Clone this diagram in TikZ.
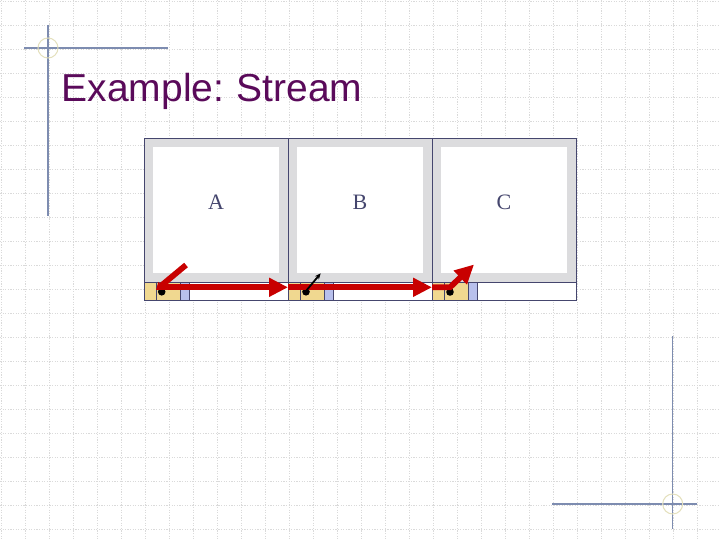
\documentclass[tikz,border=0pt]{standalone}
\usepackage{fontspec}
\setmainfont{Liberation Serif}
\newfontfamily\titlefont{Liberation Sans}
\usetikzlibrary{arrows.meta}
\definecolor{gridc}{HTML}{DADADA}
\definecolor{rulec}{HTML}{7D8CB0}
\definecolor{ringc}{HTML}{E4E0BC}
\definecolor{titlec}{HTML}{5A0A5A}
\definecolor{navy}{HTML}{45466E}
\definecolor{framegray}{HTML}{DCDCDE}
\definecolor{slotyel}{HTML}{F0D890}
\definecolor{slotlav}{HTML}{B8C0EC}
\definecolor{arrred}{HTML}{C80000}
\tikzset{
  gridline/.style={gridc, line width=0.5pt, dash pattern=on 1.2pt off 1.4pt},
  cornerline/.style={rulec, line width=1.3pt},
  ring/.style={ringc, line width=1pt},
  innerbox/.style={fill=white, draw=none, inner sep=0pt, minimum width=126.5pt, minimum height=126pt, anchor=north west},
  celllabel/.style={text=navy, font=\fontsize{22}{22}\selectfont, inner sep=0pt},
  navyline/.style={navy, line width=0.9pt},
  redarrow/.style={arrred, line width=5.8pt, line join=miter, -{Triangle[length=19pt,width=18pt]}},
  smallred/.style={arrred, line width=5.8pt, -{Triangle[length=7pt,width=9pt]}},
  blackarrow/.style={black, line width=1.8pt, -{Stealth[length=6pt,width=5pt]}},
  dot/.style={black}
}
\begin{document}
\begin{tikzpicture}[x=1pt,y=-1pt]
\useasboundingbox (0,0) rectangle (720,540);
\fill[white] (0,0) rectangle (720,540);
% grid
\foreach \k in {0,...,29} \draw[gridline] ({24*\k+1},0) -- ({24*\k+1},540);
\foreach \k in {0,...,22} \draw[gridline] (0,{24*\k+1}) -- (720,{24*\k+1});
% corner marks
\draw[cornerline] (48,25) -- (48,216);
\draw[cornerline] (24,48) -- (168,48);
\draw[ring] (48,48) circle (10);
\draw[cornerline] (672.7,336) -- (672.7,529);
\draw[cornerline] (552,504) -- (697,504);
\draw[ring] (672.7,504) circle (10);
% title
\node[anchor=base west, text=titlec, font=\titlefont\fontsize{39}{39}\selectfont, inner sep=0pt] (title) at (61.5,101.7) {Example:\kern-2pt{} Stream};
% cells
\foreach \x/\lab in {144/A,288/B,432/C}{
  \fill[framegray] (\x,138) rectangle ({\x+144},282);
  \node[innerbox] (inner\lab) at ({\x+8.5},146.5) {};
  \node[celllabel] (lab\lab) at ({\x+72},202.5) {\lab};
  \fill[slotyel] (\x,282) rectangle ({\x+36},300);
  \fill[slotlav] ({\x+36},282) rectangle ({\x+45},300);
  \fill[white] ({\x+45},282) rectangle ({\x+144},300);
  \draw[navyline] ({\x+12},282) -- ({\x+12},300);
  \draw[navyline] ({\x+36},282) -- ({\x+36},300);
  \draw[navyline] ({\x+45},282) -- ({\x+45},300);
}
\draw[navyline] (144,138) rectangle (576,300);
\draw[navyline] (144,282) -- (576,282);
\draw[navyline] (288,138) -- (288,300);
\draw[navyline] (432,138) -- (432,300);
% dots
\fill[dot] (161.7,291.8) circle (3.8);
\fill[dot] (306,291.8) circle (3.8);
\fill[dot] (450,292) circle (3.8);
% named points
\coordinate (a0) at (186,265);
\coordinate (a1) at (156,290);
\coordinate (h0) at (158,287.3);
\coordinate (h1) at (288,287.3);
\coordinate (h2) at (432,287.3);
\coordinate (c1) at (450,287.3);
\coordinate (c2) at (474,264.5);
\coordinate (b0) at (306,291);
\coordinate (b1) at (320.7,273.3);
% arrows
\draw[redarrow] (h0) -- (h1);
\draw[redarrow] (h1) -- (h2);
\draw[redarrow] (h2) -- (c1) -- (c2);
\draw[smallred] (a0) -- (a1);
\draw[blackarrow] (b0) -- (b1);
\end{tikzpicture}
\end{document}
